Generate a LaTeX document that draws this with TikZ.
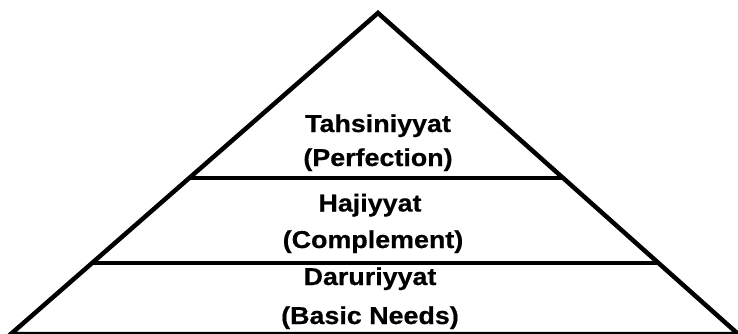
\documentclass[tikz,border=0pt]{standalone}
\usepackage{fontspec}
\newfontfamily\labfont[FakeStretch=1.1,FakeBold=0.6]{Liberation Sans}
\begin{document}
\begin{tikzpicture}[x=1bp,y=-1bp,
  edge/.style={line width=4.5bp,black},
  lab/.style={anchor=base,inner sep=0pt,font=\labfont\bfseries\fontsize{24.5}{29}\selectfont}]
\useasboundingbox (0,0) rectangle (738,333);
\begin{scope}
\clip (0,0) rectangle (738,333);
\coordinate (apex) at (378,13);
\coordinate (bl) at (10.9,334);
\coordinate (br) at (738.1,334);
\coordinate (l1) at (189,178);
\coordinate (r1) at (563,178);
\coordinate (l2) at (92,263);
\coordinate (r2) at (658,263);
\draw[edge] (bl) -- (apex) -- (br) -- cycle;
\draw[edge] (l1) -- (r1);
\draw[edge] (l2) -- (r2);
\end{scope}
\node[lab] (t1) at (378,132) {Tahsiniyyat};
\node[lab] (t2) at (378,166) {(Perfection)};
\node[lab] (h1) at (370,211.5) {Hajiyyat};
\node[lab] (h2) at (373,248) {(Complement)};
\node[lab] (d1) at (370,285) {Daruriyyat};
\node[lab] (d2) at (370,324) {(Basic Needs)};
\end{tikzpicture}
\end{document}
